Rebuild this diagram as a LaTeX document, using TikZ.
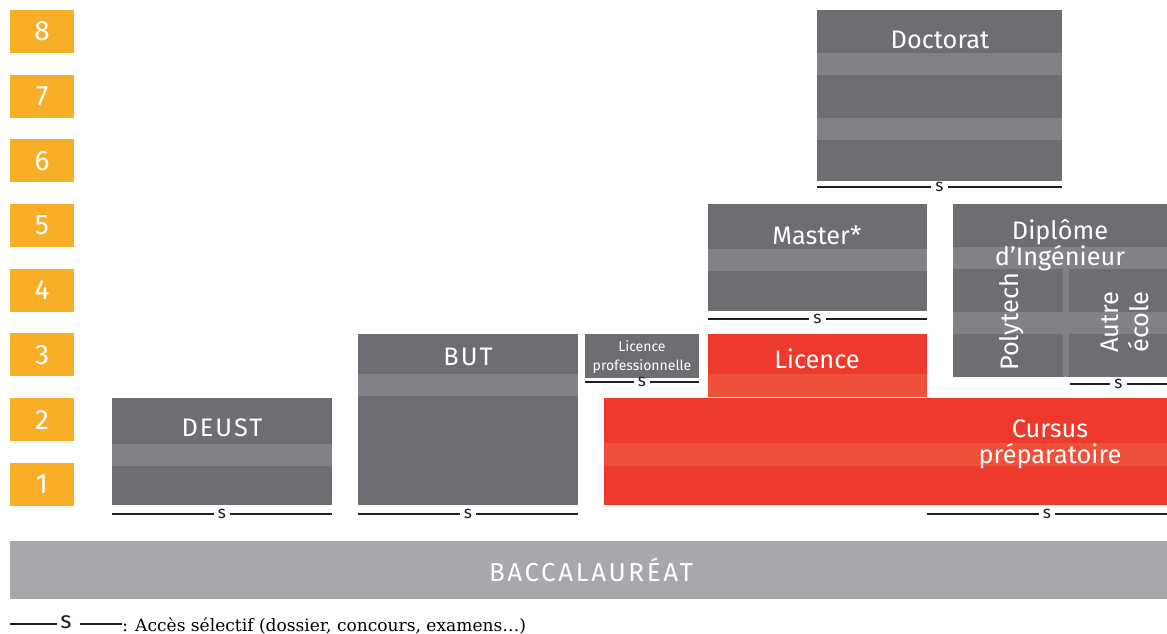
\documentclass[tikz,border=0pt]{standalone}
\usepackage{fontspec}
\setsansfont{Fira Sans}
\newfontfamily\legendfont{DejaVu Serif}
\usepackage{xcolor}
\usepackage{tikz}
\usetikzlibrary{positioning}
\definecolor{boxgray}{HTML}{6D6E71}
\definecolor{stripegray}{HTML}{818285}
\definecolor{boxred}{HTML}{EE3A2D}
\definecolor{stripered}{HTML}{EF5039}
\definecolor{levelorange}{HTML}{F9AE27}
\definecolor{bacgray}{HTML}{A7A8AB}
\definecolor{barblack}{HTML}{231F20}
\tikzstyle{level} = [fill=levelorange, text=white, minimum width=48pt, minimum height=32.25pt, inner sep=0pt, font=\sffamily\fontsize{21}{21}\selectfont]
\tikzstyle{title} = [text=white, inner sep=0pt, align=center, font=\sffamily\fontsize{19}{19.5}\selectfont]
\tikzstyle{capstitle} = [title, font=\sffamily\addfontfeatures{LetterSpace=8}\fontsize{19}{19.5}\selectfont]
\tikzstyle{smalltitle} = [text=white, inner sep=0pt, align=center, font=\sffamily\fontsize{10.5}{14}\selectfont]
\tikzstyle{selmark} = [inner ysep=0pt, inner xsep=3pt, text=barblack, font=\sffamily\fontsize{13}{13}\selectfont]
\tikzstyle{selbar} = [barblack, line width=1.8pt]

\begin{document}
\begin{tikzpicture}[x=0.75pt, y=-0.75pt]
        \useasboundingbox (0,0) rectangle (1167,634);
        % years
        \foreach \n in {1,...,8}
            \node (lvl\n) [level] at (42, {31.5+(8-\n)*64.7}) {\n};
        % DEUST
        \fill[boxgray] (112,398) rectangle (332,505);
        \fill[stripegray] (112,444) rectangle (332,466);
        \node (deust) [capstitle] at (222,428) {DEUST};
        % BUT
        \fill[boxgray] (358,334) rectangle (578,505);
        \fill[stripegray] (358,374) rectangle (578,396);
        \node (but) [capstitle] at (468,357) {BUT};
        % Licence professionnelle
        \fill[boxgray] (585,334) rectangle (699,378);
        \node (lpro) [smalltitle] at (642,357) {Licence\\professionnelle};
        % Licence + cursus
        \fill[boxred] (708,334) rectangle (927,397);
        \fill[stripered] (708,374) rectangle (927,397);
        \node (lic) [title] at (817,359) {Licence};
        \fill[boxred] (604,398) rectangle (1167,505);
        \fill[stripered] (604,443) rectangle (1167,466);
        \node (cursus) [title] at (1050,444) {Cursus\\préparatoire};
        % Master
        \fill[boxgray] (708,204) rectangle (927,311);
        \fill[stripegray] (708,249) rectangle (927,271);
        \node (master) [title] at (817,235) {Master*};
        % Doctorat
        \fill[boxgray] (817,10) rectangle (1062,181);
        \fill[stripegray] (817,53) rectangle (1062,75);
        \fill[stripegray] (817,118) rectangle (1062,140);
        \node (doct) [title] at (940,40) {Doctorat};
        % Diplome d'ingenieur
        \fill[boxgray] (953,204) rectangle (1167,377);
        \fill[stripegray] (953,247) rectangle (1167,269);
        \fill[stripegray] (953,312) rectangle (1167,334);
        \fill[stripegray] (1063,269) rectangle (1069,377);
        \node (ing) [title] at (1060,245) {Diplôme\\d’Ingénieur};
        \node (poly) [title, rotate=90] at (1012,322) {Polytech};
        \node (autre) [title, rotate=90, font=\sffamily\fontsize{19}{22}\selectfont] at (1125,322) {Autre\\école};
        % selective access
        \foreach \nm/\xa/\xb/\yy in {sdeust/112/332/514, sbut/358/578/514, scursus/927/1167/514,
                sLpro/585/699/382, smaster/708/927/319, sdoct/817/1062/187, sing/1070/1167/384} {
            \node (\nm) [selmark] at ({(\xa+\xb)/2},\yy) {s};
            \coordinate (\nm a) at (\xa,\yy);
            \coordinate (\nm b) at (\xb,\yy);
            \draw [selbar] (\nm a) -- (\nm.west);
            \draw [selbar] (\nm.east) -- (\nm b);
        }
        % bac
        \fill[bacgray] (10,541) rectangle (1167,599);
        \node (bac) [text=white, font=\sffamily\addfontfeatures{LetterSpace=10}\fontsize{19.5}{19.5}\selectfont] at (591,570) {BACCALAURÉAT};
        % legend
        \node (legs) [selmark, inner sep=2pt, font=\sffamily\fontsize{18}{18}\selectfont] at (66,622) {s};
        \coordinate (lega) at (10,624);
        \coordinate (legb) at (122,624);
        \draw [barblack, line width=1.5pt] (lega) -- (lega -| legs.west);
        \draw [barblack, line width=1.5pt] ([xshift=4pt]legs.east |- legb) -- (legb);
        \node (legtext) [anchor=base west, inner sep=0pt, font=\legendfont\fontsize{12.8}{12.8}\selectfont] at (122,631) {: Accès sélectif (dossier, concours, examens…)};
\end{tikzpicture}
\end{document}
